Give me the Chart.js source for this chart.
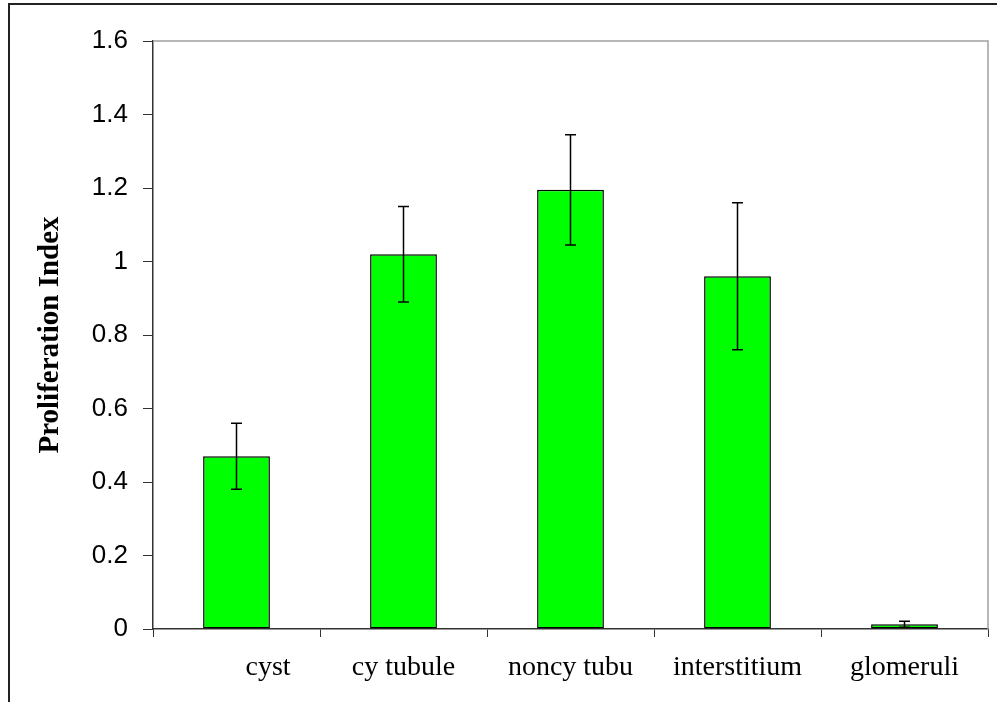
<!DOCTYPE html>
<html>
<head>
<meta charset="utf-8">
<script src="https://cdn.jsdelivr.net/npm/chart.js@4.4.1/dist/chart.umd.min.js"></script>
<style>
  html, body { margin: 0; padding: 0; background: #fff; }
  #wrap { width: 997px; height: 702px; position: relative; }
</style>
</head>
<body>
<div id="wrap"><canvas id="chart" width="997" height="702"></canvas></div>
<script>
// Data
const categories = ['         cyst', 'cy tubule', 'noncy tubu', 'interstitium', 'glomeruli']
const proliferation = [0.47, 1.02, 1.195, 0.96, 0.013]
const errors = [0.09, 0.13, 0.15, 0.2, 0.008]
const yTicks = [0, 0.2, 0.4, 0.6, 0.8, 1, 1.2, 1.4, 1.6]

const axisColor = '#333333'

// Outer frame + grey top/right border of the plot area
const framePlugin = {
    id: 'frame',
    beforeDraw(chart) {
        const ctx = chart.ctx
        ctx.save()
        ctx.strokeStyle = '#222'
        ctx.lineWidth = 2
        ctx.beginPath()
        ctx.moveTo(9, 702)
        ctx.lineTo(9, 4)
        ctx.lineTo(997, 4)
        ctx.stroke()
        ctx.restore()
    },
    afterDraw(chart) {
        const { ctx, chartArea } = chart
        ctx.save()
        ctx.strokeStyle = '#a0a0a0'
        ctx.lineWidth = 1.5
        ctx.beginPath()
        ctx.moveTo(chartArea.left, chartArea.top)
        ctx.lineTo(chartArea.right, chartArea.top)
        ctx.lineTo(chartArea.right, chartArea.bottom)
        ctx.stroke()
        ctx.restore()
    }
}

// Error bars drawn through the scales
const errorBarPlugin = {
    id: 'errorBars',
    afterDatasetsDraw(chart) {
        const { ctx, scales } = chart
        const meta = chart.getDatasetMeta(0)
        ctx.save()
        ctx.strokeStyle = '#000'
        ctx.lineWidth = 1.5
        meta.data.forEach((bar, i) => {
            const x = bar.x
            const yTop = scales.y.getPixelForValue(proliferation[i] + errors[i])
            const yBot = scales.y.getPixelForValue(Math.max(0, proliferation[i] - errors[i]))
            ctx.beginPath()
            ctx.moveTo(x, yTop)
            ctx.lineTo(x, yBot)
            ctx.moveTo(x - 5.5, yTop)
            ctx.lineTo(x + 5.5, yTop)
            ctx.moveTo(x - 5.5, yBot)
            ctx.lineTo(x + 5.5, yBot)
            ctx.stroke()
        })
        ctx.restore()
    }
}

new Chart(document.getElementById('chart').getContext('2d'), {
    type: 'bar',
    data: {
        labels: categories,
        datasets: [{
            data: proliferation,
            backgroundColor: '#00ff00',
            borderColor: '#000',
            borderWidth: 1.5,
            borderSkipped: false,
            categoryPercentage: 1,
            barPercentage: 0.4
        }]
    },
    options: {
        responsive: false,
        animation: false,
        layout: { padding: { left: 12, right: 9, top: 41, bottom: 0 } },
        plugins: {
            legend: { display: false },
            tooltip: { enabled: false }
        },
        scales: {
            x: {
                grid: {
                    display: true,
                    drawOnChartArea: false,
                    drawTicks: true,
                    tickLength: 8,
                    offset: true,
                    color: axisColor
                },
                border: { display: true, color: axisColor, width: 1.5 },
                ticks: {
                    color: '#000',
                    padding: 14,
                    maxRotation: 0,
                    autoSkip: false,
                    font: { family: '"Liberation Serif", "Times New Roman", serif', size: 28 }
                },
                afterFit(scale) { scale.height = 73 }
            },
            y: {
                min: 0,
                max: 1.6,
                afterBuildTicks(scale) {
                    scale.ticks = yTicks.map(v => ({ value: v }))
                },
                grid: {
                    display: true,
                    drawOnChartArea: false,
                    drawTicks: true,
                    tickLength: 10,
                    color: axisColor
                },
                border: { display: true, color: axisColor, width: 1.5 },
                ticks: {
                    color: '#000',
                    padding: 15,
                    callback: v => String(+Number(v).toFixed(1)),
                    font: { family: '"Liberation Sans", Arial, sans-serif', size: 26 }
                },
                title: {
                    display: true,
                    text: 'Proliferation Index',
                    color: '#000',
                    padding: { top: 21, bottom: 0 },
                    font: { family: '"Liberation Serif", "Times New Roman", serif', size: 29, weight: 'bold' }
                },
                afterFit(scale) { scale.width = 141 }
            }
        }
    },
    plugins: [framePlugin, errorBarPlugin]
})
</script>
</body>
</html>
